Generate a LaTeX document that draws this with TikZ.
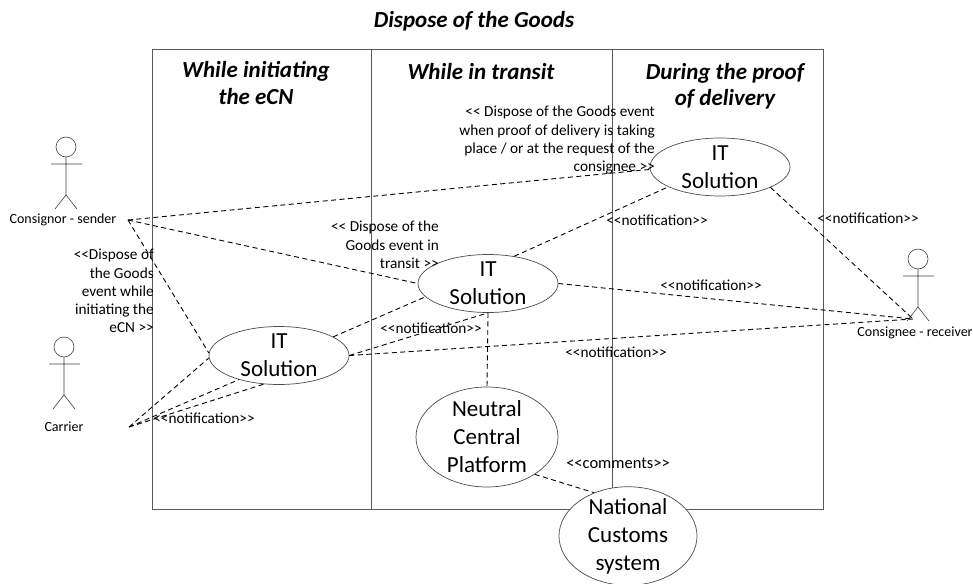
\documentclass[tikz,border=0pt]{standalone}
\usepackage{fontspec}
\usetikzlibrary{shapes.geometric}
\setmainfont{Carlito}
\begin{document}
\begin{tikzpicture}[x=1pt,y=-1pt]
        % Styles
        \tikzstyle{frame line}=[black!65,line width=0.8pt]
        \tikzstyle{actor line}=[black!75,line width=0.6pt]
        \tikzstyle{link}=[black,line width=0.9pt,dash pattern=on 5pt off 3.5pt]
        \tikzstyle{usecase}=[draw=black!70,fill=white,ellipse,line width=0.7pt,inner xsep=0pt,inner ysep=-3pt,align=center,font=\fontsize{23}{28}\selectfont]
        \tikzstyle{phase text}=[align=center,font=\fontsize{23}{26.5}\selectfont\bfseries\itshape]
        \tikzstyle{small text}=[inner sep=0pt,font=\fontsize{15.3}{18.3}\selectfont]
        \tikzstyle{note text}=[small text,align=right,anchor=north east]
        \tikzstyle{actor text}=[inner sep=0pt,font=\fontsize{14}{16}\selectfont]
        \useasboundingbox (0,0) rectangle (973,583);
        %the frame
        \draw[style=frame line] (152,49) rectangle (823,509);
        \draw[style=frame line] (371,49) -- (371,509);
        \draw[style=frame line] (612,49) -- (612,509);
        %titles
        \node[phase text] (title) at (474,21) {Dispose of the Goods};
        \node[phase text] (initiating) at (256,83) {While initiating\\the eCN};
        \node[phase text] (transit) at (481,72) {While in transit};
        \node[phase text] (delivery) at (725,86) {During the proof\\of delivery};
        %actors
        \foreach \ax/\ay in {66/147,64/347,918/259}
        \draw[style=actor line,xshift=\ax,yshift=-\ay] (0,0) circle (10) (0,10) -- (0,48) (-15,17) -- (16,17) (-11,62) -- (0,48) -- (11,62);
        \node[actor text] (consignor) at (63,220) {Consignor - sender};
        \node[actor text] (carrier) at (64,427) {Carrier};
        \node[actor text] (consignee) at (915,333) {Consignee - receiver};
        \coordinate (consignor end) at (128,220);
        \coordinate (carrier end) at (129,427);
        \coordinate (consignee end) at (913,319);
        %use cases
        \node[usecase,minimum width=140pt,minimum height=58pt] (top it) at (720,167) {IT\\Solution};
        \node[usecase,minimum width=140pt,minimum height=58pt] (mid it) at (488,283.5) {IT\\Solution};
        \node[usecase,minimum width=140pt,minimum height=58pt] (left it) at (279,355.5) {IT\\Solution};
        \node[usecase,minimum width=142pt,minimum height=100pt] (platform) at (487,437) {Neutral\\Central\\Platform};
        \node[usecase,minimum width=138pt,minimum height=96pt] (customs) at (628,536) {National\\Customs\\system};
        %links
        \draw[style=link] (consignor end) -- (top it.182);
        \draw[style=link] (consignor end) -- (mid it.180);
        \draw[style=link] (consignor end) -- (left it.178);
        \draw[style=link] (carrier end) -- (left it.182);
        \draw[style=link] (carrier end) -- (left it.211);
        \draw[style=link] (carrier end) -- (left it.242);
        \draw[style=link] (left it.19) -- (mid it.192);
        \draw[style=link] (left it.0) -- (mid it.270);
        \draw[style=link] (left it.0) -- (consignee end);
        \draw[style=link] (mid it.46) -- (top it.201);
        \draw[style=link] (mid it.0) -- (consignee end);
        \draw[style=link] (top it.-22) -- (consignee end);
        \draw[style=link] (mid it.270) -- (platform.90);
        \draw[style=link] (platform.-38) -- (customs.128);
        %labels
        \node[note text] (start note) at (154,249) {<{}<Dispose of\\the Goods\\event while\\initiating the\\eCN >{}>};
        \node[note text] (transit note) at (439,221) {<{}< Dispose of the\\Goods event in\\transit >{}>};
        \node[note text] (proof note) at (655,106) {<{}< Dispose of the Goods event\\when proof of delivery is taking\\place / or at the request of the\\consignee >{}>};
        \node[small text] (notify a) at (204,418) {<{}<notification>{}>};
        \node[small text] (notify b) at (431,328) {<{}<notification>{}>};
        \node[small text] (notify c) at (657,220) {<{}<notification>{}>};
        \node[small text] (notify d) at (868,218) {<{}<notification>{}>};
        \node[small text] (notify e) at (711,285) {<{}<notification>{}>};
        \node[small text] (notify f) at (616,352) {<{}<notification>{}>};
        \node[small text,font=\fontsize{16.5}{18}\selectfont] (comments) at (618,463) {<{}<comments>{}>};
    \end{tikzpicture}
\end{document}
